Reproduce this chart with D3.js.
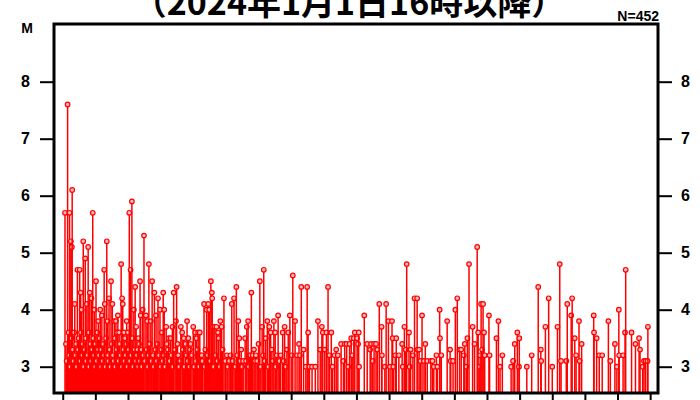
<!DOCTYPE html>
<html>
<head>
<meta charset="utf-8">
<script src="https://cdn.jsdelivr.net/npm/d3@7"></script>
<style>
  body { margin: 0; background: #fff; }
  svg text { font-family: "Liberation Sans", Arial, sans-serif; font-weight: bold; fill: #000; }
</style>
</head>
<body>
<svg id="chart" width="700" height="400"></svg>
<script>
// Earthquakes M>=3.0, time in hours after 2024-01-01 16:00 JST, [hour, magnitude]
const largerShocks = [
  [0.07,5.7],[0.15,7.6],[0.21,5.7],[0.25,5.2],[0.28,5.1],[0.29,6.1],[0.37,4.1],[0.45,4.7],[0.52,4.7],[0.55,4.3],
  [0.58,4.0],[0.63,5.2],[0.69,4.9],[0.74,4.1],[0.78,5.1],[0.83,4.3],[0.88,4.2],[0.92,5.7],[0.97,4.0],[1.02,4.5],
  [1.09,3.8],[1.15,4.0],[1.20,3.9],[1.27,4.7],[1.29,4.1],[1.35,5.2],[1.37,3.8],[1.42,4.2],[1.48,4.5],[1.52,4.1],
  [1.58,3.8],[1.63,3.8],[1.69,3.9],[1.67,3.6],[1.73,3.6],[1.79,4.8],[1.82,4.2],[1.84,4.1],[1.88,3.6],[1.91,3.5],
  [1.96,3.8],[2.00,3.6],[2.04,5.7],[2.08,4.7],[2.12,5.9],[2.18,4.0],[2.22,4.4],[2.25,3.7],[2.29,3.3],[2.32,3.5],
  [2.37,4.5],[2.39,3.9],[2.49,5.3],[2.45,4.0],[2.55,3.9],[2.59,3.8],[2.64,4.8],[2.70,3.8],[2.74,4.5],[2.81,4.3],
  [2.86,3.9],[2.92,4.2],[2.98,4.0],[3.04,3.6],[3.08,4.3],[3.11,4.0],[3.17,3.7],[3.19,3.4],[3.25,3.5],[3.31,3.5],
  [3.36,3.7],[3.40,4.3],[3.47,3.8],[3.49,4.4],[3.52,3.4],[3.57,3.0],[3.62,3.7],[3.66,3.6],[3.71,3.5],[3.76,3.4],
  [3.81,3.8],[3.85,3.5],[3.88,3.0],[3.92,3.4],[4.00,3.7],[4.06,3.6],[4.10,3.5],[4.15,3.6],[4.20,3.6],[4.26,3.2],
  [4.33,4.1],[4.37,3.3],[4.41,4.0],[4.46,4.1],[4.49,4.0],[4.54,4.5],[4.57,4.3],[4.58,4.2],[4.61,3.7],[4.66,3.7],
  [4.71,3.7],[4.76,3.6],[4.78,3.5],[4.83,3.8],[4.87,3.7],[4.94,4.2],
  [5.03,3.2],[5.10,3.1],[5.18,4.1],[5.25,4.2],[5.32,4.4],[5.38,3.8],[5.41,3.5],[5.47,3.3],[5.53,3.1],[5.59,3.5],
  [5.64,3.7],[5.68,3.8],[5.72,3.2],[5.78,4.3],[5.82,3.2],[5.86,3.3],[5.92,3.2],[5.96,3.1],[6.00,3.4],[6.04,4.5],
  [6.11,3.7],[6.16,4.7],[6.22,3.5],[6.27,3.8],[6.33,3.7],[6.37,3.6],[6.41,3.3],[6.47,3.8],[6.51,3.6],[6.56,3.2],
  [6.60,3.9],[6.64,3.1],[6.74,3.6],[6.80,3.7],[6.87,3.3],[6.91,3.6],[6.96,3.9],[7.02,3.2],[7.05,4.6],[7.12,3.8],
  [7.18,3.2],[7.24,3.4],[7.27,3.2],[7.31,4.4],[7.38,3.3],[7.45,3.0],[7.49,4.4],[7.52,3.6],[7.56,3.0],[7.64,3.0],
  [7.74,3.0],[7.82,3.8],[7.89,3.3],[7.94,3.7],[7.97,3.6],[8.03,3.3],[8.08,3.6],[8.13,4.4],[8.17,3.2],[8.23,3.6],
  [8.27,3.0],[8.33,3.2],[8.38,3.3],[8.43,3.2],[8.53,3.4],[8.60,3.1],[8.64,3.4],[8.70,3.4],[8.75,3.0],[8.79,3.4],
  [8.84,3.5],[8.87,3.2],[8.92,3.5],[8.95,3.6],[9.02,3.5],[9.05,3.4],[9.07,3.6],[9.08,3.0],[9.24,3.9],[9.33,3.4],
  [9.42,3.3],[9.45,3.4],[9.50,3.1],[9.54,3.4],[9.60,3.4],[9.64,3.3],[9.70,4.1],[9.77,3.7],[9.78,3.2],[9.87,3.0],
  [9.91,4.1],[9.98,3.8],[10.03,3.0],[10.09,3.8],[10.11,3.5],[10.13,3.0],[10.19,3.2],[10.22,3.5],
  [10.30,3.2],[10.40,3.4],[10.42,3.0],[10.47,3.7],[10.51,3.3],[10.54,4.8],[10.61,3.6],[10.66,3.3],[10.63,3.0],[10.73,3.2],
  [10.78,4.2],[10.86,4.2],[10.87,3.3],[10.92,3.3],[10.96,3.1],[11.01,3.9],[11.07,3.1],[11.11,3.4],[11.17,3.1],[11.28,3.1],
  [11.33,3.1],[11.37,3.0],[11.45,3.2],[11.48,3.0],[11.55,4.0],[11.56,3.5],[11.60,3.2],[11.78,3.8],[11.87,3.3],[11.89,3.1],
  [11.96,3.1],[12.03,4.0],[12.09,4.2],[12.16,3.3],[12.21,3.3],[12.29,3.2],[12.32,3.4],[12.37,3.0],[12.40,3.5],[12.45,4.8],
  [12.56,3.7],[12.62,3.4],[12.70,5.1],[12.73,3.6],[12.78,3.0],[12.79,3.2],[12.82,4.1],[12.85,3.3],[12.88,4.1],[12.91,3.6],
  [12.93,3.2],[13.06,3.9],[13.08,3.2],[13.29,3.5],[13.35,3.8],[13.40,3.0],[13.47,3.2],[13.74,3.0],[13.80,3.1],[13.85,3.4],
  [13.93,3.6],[13.99,3.5],[13.98,3.0],[14.22,3.0],[14.37,3.2],[14.57,4.4],[14.65,3.3],[14.66,3.1],[14.79,3.7],[14.89,4.2],
  [15.00,3.0],[15.16,3.7],[15.23,4.8],[15.27,3.1],[15.43,3.1],[15.46,4.1],[15.58,3.9],[15.61,4.2],[15.69,3.5],[15.73,3.2],
  [15.82,3.8],[15.84,3.1],[15.90,3.4],[16.27,3.9],[16.28,3.6],[16.36,3.5],[16.44,3.2],[16.53,3.2],[16.72,3.8],[16.78,3.1],
  [16.92,3.4],[16.98,3.0],[17.04,4.0],[17.05,3.2],[17.17,3.2],[17.23,3.6],[17.25,4.7],[17.43,3.6],[17.55,3.4],[17.66,3.5],
  [17.69,3.3],[17.77,3.0],[17.81,3.1],[17.86,3.1],[17.92,3.1],[17.93,3.7]
];

// Smaller shocks packed into the first hours of the sequence
const smallerShocks = [
  [0.10,3.4],[0.12,3.1],[0.18,3.6],[0.20,3.2],[0.23,3.0],[0.27,3.5],[0.31,3.3],[0.33,3.1],[0.35,3.6],[0.39,3.2],
  [0.41,3.4],[0.43,3.0],[0.47,3.3],[0.49,3.5],[0.54,3.1],[0.56,3.6],[0.60,3.2],[0.61,3.4],[0.65,3.0],[0.67,3.3],
  [0.71,3.5],[0.72,3.1],[0.76,3.2],[0.80,3.6],[0.81,3.0],[0.85,3.4],[0.87,3.1],[0.90,3.3],[0.94,3.5],[0.96,3.2],
  [0.99,3.0],[1.00,3.4],[1.04,3.1],[1.06,3.6],[1.08,3.3],[1.11,3.2],[1.13,3.5],[1.17,3.0],[1.18,3.3],[1.22,3.1],
  [1.24,3.4],[1.26,3.2],[1.31,3.0],[1.33,3.5],[1.39,3.2],[1.40,3.1],[1.44,3.3],[1.46,3.0],[1.50,3.4],[1.54,3.2],
  [1.56,3.1],[1.60,3.5],[1.61,3.0],[1.65,3.3],[1.71,3.1],[1.75,3.4],[1.77,3.2],[1.81,3.0],[1.86,3.3],[1.89,3.1],
  [1.93,3.2],[1.95,3.4],[1.98,3.0],[2.02,3.3],[2.06,3.1],[2.10,3.2],[2.14,3.5],[2.16,3.0],[2.20,3.3],[2.24,3.1],
  [2.27,3.2],[2.31,3.0],[2.34,3.4],[2.36,3.1],[2.41,3.3],[2.43,3.0],[2.47,3.2],[2.52,3.1],[2.57,3.3],[2.61,3.0],
  [2.63,3.2],[2.67,3.4],[2.72,3.1],[2.77,3.2],[2.79,3.0],[2.84,3.3],[2.88,3.1],[2.90,3.4],[2.95,3.2],[3.00,3.0],
  [3.02,3.3],[3.06,3.1],[3.10,3.2],[3.14,3.0],[3.22,3.3],[3.28,3.1],[3.33,3.2],[3.38,3.0],[3.44,3.3],[3.54,3.2],
  [3.60,3.1],[3.68,3.3],[3.73,3.0],[3.79,3.2],[3.83,3.1],[3.90,3.3],[3.96,3.2],[4.03,3.0],[4.08,3.1],[4.13,3.3],
  [4.18,3.0],[4.23,3.2],[4.28,3.1],[4.35,3.0],[4.44,3.2],[4.52,3.1],[4.63,3.0],[4.69,3.2],[4.74,3.1],[4.81,3.0],
  [4.90,3.3],[4.98,3.1],[5.06,3.0],[5.14,3.2],[5.21,3.1],[5.29,3.0],[5.35,3.2],[5.44,3.1],[5.50,3.0],[5.62,3.1],
  [5.70,3.0],[5.75,3.2],[5.89,3.1],[6.07,3.0],[6.14,3.2],[6.19,3.1],[6.30,3.0],[6.44,3.1],[6.53,3.0],[6.68,3.2],
  [6.77,3.1],[6.84,3.0]
];

const magTicks = [3, 4, 5, 6, 7, 8];
const hourTicks = d3.range(0, 19);
const titleText = "（2024年1月1日16時以降）";
const magLabel = "M";

const events = largerShocks.concat(smallerShocks)
  .map(([h, m]) => ({ h, m }))
  .sort((a, b) => a.h - b.h);

const svg = d3.select("#chart");
const frame = { left: 54, right: 658, top: 24, bottom: 393 };

const x = d3.scaleLinear().domain([-0.267, 18.24]).range([frame.left, frame.right]);
const y = d3.scaleLinear().domain([3, 8]).range([366.7, 81.7]);

// title
svg.append("text")
  .attr("x", 349).attr("y", 15)
  .attr("text-anchor", "middle")
  .style("font-family", "'Noto Sans CJK JP', sans-serif")
  .style("font-size", "34px")
  .style("font-weight", "bold")
  .text(titleText);

svg.append("text")
  .attr("x", 27).attr("y", 33)
  .attr("text-anchor", "middle")
  .style("font-size", "14px")
  .text(magLabel);

svg.append("text")
  .attr("x", frame.right + 1).attr("y", 21)
  .attr("text-anchor", "end")
  .style("font-size", "14px")
  .text("N=" + events.length);

// each shock: stem down to the frame, then its marker, in time order
const shock = svg.append("g")
  .selectAll("g")
  .data(events)
  .join("g");

shock.append("line")
  .attr("x1", d => x(d.h)).attr("x2", d => x(d.h))
  .attr("y1", d => y(d.m)).attr("y2", frame.bottom)
  .attr("stroke", "#ff0000")
  .attr("stroke-width", 1.5);

shock.append("circle")
  .attr("cx", d => x(d.h))
  .attr("cy", d => y(d.m))
  .attr("r", 2.3)
  .attr("fill", "#ffb8b8")
  .attr("stroke", "#ff0000")
  .attr("stroke-width", 1.2);

// axes
function styleAxis(g) {
  g.select(".domain").remove();
  g.selectAll(".tick line").attr("stroke", "#000").attr("stroke-width", 2);
  g.selectAll(".tick text").style("font-size", "16px").style("font-weight", "bold")
    .style("font-family", "'Liberation Sans', Arial, sans-serif");
}

svg.append("g")
  .attr("transform", `translate(${frame.left},0)`)
  .call(d3.axisLeft(y).tickValues(magTicks).tickSize(14).tickPadding(10).tickFormat(d3.format("d")))
  .call(styleAxis);

svg.append("g")
  .attr("transform", `translate(${frame.right},0)`)
  .call(d3.axisRight(y).tickValues(magTicks).tickSize(14).tickPadding(9).tickFormat(d3.format("d")))
  .call(styleAxis);

svg.append("g")
  .attr("transform", `translate(0,${frame.bottom})`)
  .call(d3.axisBottom(x).tickValues(hourTicks).tickSize(9).tickFormat(""))
  .call(styleAxis);

// frame
svg.append("rect")
  .attr("x", frame.left).attr("y", frame.top)
  .attr("width", frame.right - frame.left)
  .attr("height", frame.bottom - frame.top)
  .attr("fill", "none")
  .attr("stroke", "#000")
  .attr("stroke-width", 3);
</script>
</body>
</html>
